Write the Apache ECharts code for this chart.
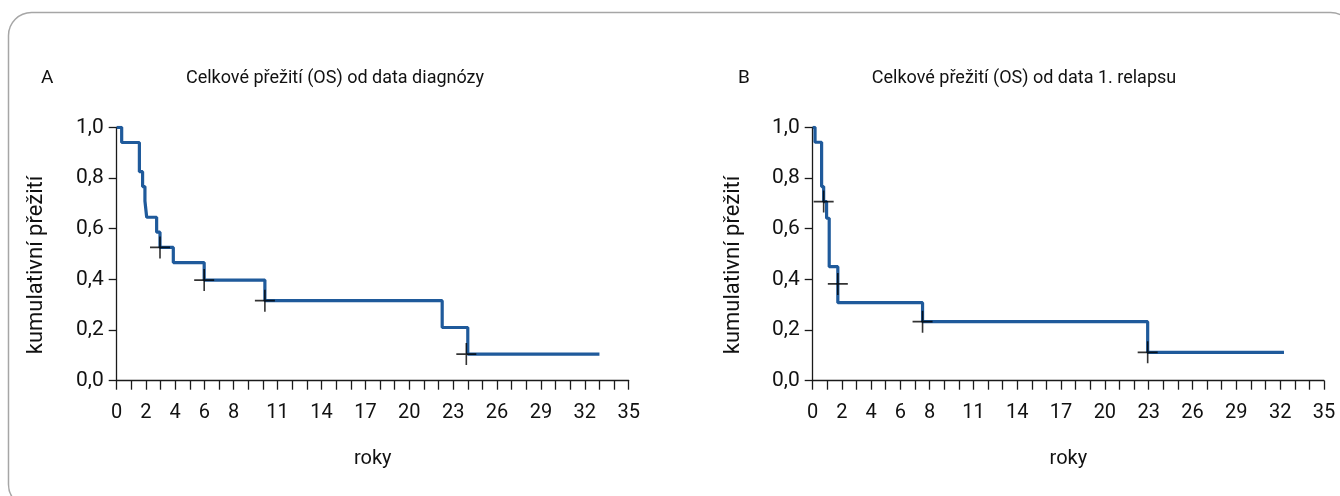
<!DOCTYPE html>
<html>
<head>
<meta charset="utf-8">
<script src="https://cdn.jsdelivr.net/npm/echarts@6/dist/echarts.min.js"></script>
<style>
  html, body { margin: 0; padding: 0; background: #fff; }
  #chart { width: 1340px; height: 496px; }
</style>
</head>
<body>
<div id="chart"></div>
<script>
// panel A - od data diagnózy (roky, přežití)
var stepsA = [
    [0, 1.0], [0.34, 0.94], [1.55, 0.825], [1.77, 0.766], [1.93, 0.709],
    [2.05, 0.645], [2.73, 0.586], [2.96, 0.526], [3.87, 0.466], [5.98, 0.397],
    [10.13, 0.316], [22.25, 0.21], [24.0, 0.105], [33.0, 0.105]
];
var censA = [[2.96, 0.526], [5.98, 0.397], [10.13, 0.316], [23.9, 0.105]];

// panel B - od data 1. relapsu
var stepsB = [
    [0, 1.0], [0.16, 0.941], [0.61, 0.766], [0.75, 0.707], [0.95, 0.641],
    [1.13, 0.45], [1.72, 0.308], [7.52, 0.233], [22.93, 0.112], [32.26, 0.112]
];
var censB = [[0.75, 0.707], [1.72, 0.382], [7.52, 0.233], [22.93, 0.112]];

var xLabels = [0, 2, 4, 6, 8, 11, 14, 17, 20, 23, 26, 29, 32, 35];

var titleA = 'Celkové přežití (OS) od data diagnózy';
var titleB = 'Celkové přežití (OS) od data 1. relapsu';
var yName = 'kumulativní přežití';

var FONT = 'Roboto';
var lineColor = '#1f5a9b';
var axisColor = '#1a1a1a';

var chart = echarts.init(document.getElementById('chart'));

function xAxisCfg(gi) {
    return {
        type: 'value', gridIndex: gi, min: 0, max: 35, interval: 1,
        offset: 10,
        name: 'roky', nameLocation: 'middle', nameGap: 58,
        nameTextStyle: { fontFamily: FONT, fontSize: 20, color: '#111' },
        axisLine: { show: true, lineStyle: { color: axisColor, width: 1.3 } },
        axisTick: { show: true, length: 9, lineStyle: { color: axisColor, width: 1.3 } },
        axisLabel: {
            margin: 12, fontFamily: FONT, fontSize: 20, color: '#111',
            formatter: function (v) { return xLabels.indexOf(v) >= 0 ? String(v) : ''; }
        },
        splitLine: { show: false }
    };
}

function yAxisCfg(gi) {
    return {
        type: 'value', gridIndex: gi, min: 0, max: 1, interval: 0.2,
        axisLine: { show: true, lineStyle: { color: axisColor, width: 1.3 } },
        axisTick: { show: true, length: 8, lineStyle: { color: axisColor, width: 1.3 } },
        axisLabel: {
            margin: 13, fontFamily: FONT, fontSize: 21, color: '#111',
            formatter: function (v) { return v.toFixed(1).replace('.', ','); }
        },
        splitLine: { show: false }
    };
}

var plus = 'path://M0,9.2h20v1.6h-20z M9.2,0h1.6v20h-1.6z';

function kmSeries(data, i) {
    return {
        type: 'line', step: 'end', xAxisIndex: i, yAxisIndex: i,
        data: data, symbol: 'none', silent: true,
        lineStyle: { color: lineColor, width: 3.2 }, z: 2
    };
}
function censSeries(data, i) {
    return {
        type: 'scatter', xAxisIndex: i, yAxisIndex: i,
        data: data, symbol: plus, symbolSize: [20, 22], silent: true,
        itemStyle: { color: '#000' }, z: 3
    };
}

function yNameText(x) {
    return {
        type: 'text', silent: true, x: x, y: 265, rotation: Math.PI / 2,
        style: {
            text: yName, fontFamily: FONT, fontSize: 22, fill: '#111',
            align: 'center', verticalAlign: 'middle'
        }
    };
}

var titleStyle = { fontFamily: FONT, fontSize: 18, fontWeight: 'normal', color: '#111' };

var option = {
    backgroundColor: '#fff',
    animation: false,
    title: [
        { text: 'A', left: 36, top: 64, textStyle: { fontFamily: FONT, fontSize: 19, color: '#111', fontWeight: 'normal' } },
        { text: titleA, left: 330, top: 64, textAlign: 'center', textStyle: titleStyle },
        { text: 'B', left: 733, top: 64, textStyle: { fontFamily: FONT, fontSize: 19, color: '#111', fontWeight: 'normal' } },
        { text: titleB, left: 1019, top: 64, textAlign: 'center', textStyle: titleStyle }
    ],
    graphic: [
        {
            type: 'rect', silent: true,
            shape: { x: 8.5, y: 12.5, width: 1345, height: 495, r: 23 },
            style: { fill: 'none', stroke: '#a6a6a6', lineWidth: 1.5 }
        },
        yNameText(36),
        yNameText(733)
    ],
    grid: [
        { left: 116.7, top: 127.3, width: 512, height: 253.4 },
        { left: 812.7, top: 127.3, width: 511.3, height: 253.4 }
    ],
    xAxis: [xAxisCfg(0), xAxisCfg(1)],
    yAxis: [yAxisCfg(0), yAxisCfg(1)],
    series: [
        kmSeries(stepsA, 0), censSeries(censA, 0),
        kmSeries(stepsB, 1), censSeries(censB, 1)
    ]
};

chart.setOption(option);
</script>
</body>
</html>
